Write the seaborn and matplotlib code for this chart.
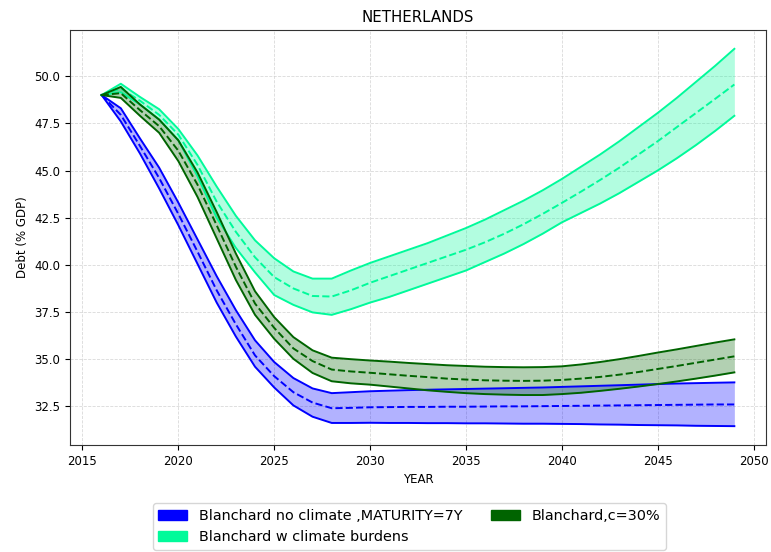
import numpy as np
import pandas as pd
import matplotlib
matplotlib.use("Agg")
import matplotlib.pyplot as plt
from matplotlib.patches import Patch
import seaborn as sns

years = list(range(2016, 2050))

# Blanchard no climate, MATURITY=7Y
blue_mean = [49.0, 47.95, 46.3, 44.6, 42.7, 40.7, 38.65, 36.85, 35.2, 34.1, 33.25, 32.7, 32.4,
             32.42, 32.45, 32.46, 32.47, 32.47, 32.48, 32.48, 32.49, 32.5, 32.5, 32.51, 32.52,
             32.53, 32.54, 32.55, 32.56, 32.57, 32.58, 32.59, 32.6, 32.6]
blue_upper = [49.0, 48.3, 46.7, 45.15, 43.3, 41.35, 39.4, 37.6, 36.0, 34.85, 34.0, 33.45, 33.2,
              33.25, 33.3, 33.33, 33.36, 33.38, 33.4, 33.42, 33.44, 33.46, 33.48, 33.5, 33.53,
              33.56, 33.59, 33.62, 33.65, 33.68, 33.71, 33.73, 33.75, 33.77]
blue_lower = [49.0, 47.6, 45.9, 44.05, 42.1, 40.05, 38.0, 36.2, 34.6, 33.5, 32.55, 31.95, 31.62,
              31.62, 31.63, 31.62, 31.62, 31.61, 31.61, 31.6, 31.6, 31.59, 31.58, 31.58, 31.57,
              31.56, 31.54, 31.53, 31.51, 31.5, 31.49, 31.47, 31.46, 31.45]

# Blanchard w climate burdens
lg_mean = [49.0, 49.35, 48.7, 47.95, 46.9, 45.3, 43.35, 41.75, 40.4, 39.35, 38.75, 38.35, 38.32,
           38.65, 39.05, 39.4, 39.75, 40.1, 40.45, 40.8, 41.2, 41.65, 42.15, 42.7, 43.28,
           43.88, 44.5, 45.15, 45.85, 46.55, 47.3, 48.05, 48.8, 49.56]
lg_upper = [49.0, 49.6, 48.9, 48.25, 47.2, 45.8, 44.15, 42.6, 41.3, 40.35, 39.65, 39.27, 39.27,
            39.7, 40.1, 40.45, 40.8, 41.15, 41.55, 41.95, 42.4, 42.9, 43.4, 43.95, 44.55,
            45.2, 45.85, 46.55, 47.3, 48.05, 48.85, 49.7, 50.55, 51.45]
lg_lower = [49.0, 49.15, 48.5, 47.7, 46.6, 44.7, 42.5, 40.9, 39.6, 38.4, 37.88, 37.48, 37.35,
            37.65, 38.0, 38.3, 38.65, 39.0, 39.35, 39.7, 40.15, 40.6, 41.1, 41.65, 42.25,
            42.75, 43.25, 43.8, 44.4, 45.0, 45.65, 46.35, 47.1, 47.9]

# Blanchard, c=30%
dg_mean = [49.0, 49.1, 48.2, 47.35, 46.05, 44.25, 42.1, 39.9, 37.95, 36.66, 35.57, 34.9, 34.45,
           34.35, 34.28, 34.2, 34.12, 34.05, 33.97, 33.92, 33.88, 33.86, 33.85, 33.86, 33.9,
           33.97, 34.06, 34.18, 34.32, 34.48, 34.64, 34.81, 34.98, 35.15]
dg_upper = [49.0, 49.43, 48.5, 47.7, 46.6, 44.9, 42.8, 40.6, 38.6, 37.23, 36.17, 35.47, 35.08,
            35.0, 34.93, 34.87, 34.8, 34.74, 34.68, 34.64, 34.6, 34.58, 34.57, 34.58, 34.62,
            34.72, 34.85, 35.0, 35.17, 35.35, 35.52, 35.7, 35.88, 36.05]
dg_lower = [49.0, 48.85, 47.9, 47.0, 45.5, 43.6, 41.4, 39.2, 37.35, 36.08, 35.02, 34.27, 33.83,
            33.72, 33.65, 33.55, 33.45, 33.35, 33.27, 33.2, 33.15, 33.12, 33.1, 33.1, 33.15,
            33.22, 33.32, 33.43, 33.55, 33.68, 33.82, 33.97, 34.13, 34.3]

labels = ["Blanchard no climate ,MATURITY=7Y", "Blanchard w climate burdens", "Blanchard,c=30%"]
colors = ["#0000FF", "#00FA9A", "#006400"]

series = [
    (blue_mean, blue_lower, blue_upper),
    (lg_mean, lg_lower, lg_upper),
    (dg_mean, dg_lower, dg_upper),
]

fig = plt.figure(figsize=(7.71, 5.52), dpi=100)
ax = fig.add_axes([0.0908, 0.1938, 0.9027, 0.7519])

for (m, lo, hi), c in zip(series, colors):
    df = pd.DataFrame({"year": years, "mean": m, "lower": lo, "upper": hi})
    ax.fill_between(df["year"], df["lower"], df["upper"], color=c, alpha=0.3, linewidth=0)
    sns.lineplot(data=df, x="year", y="lower", color=c, lw=1.4, ax=ax)
    sns.lineplot(data=df, x="year", y="upper", color=c, lw=1.4, ax=ax)
    sns.lineplot(data=df, x="year", y="mean", color=c, lw=1.4, linestyle="--", ax=ax)

ax.set_title("NETHERLANDS", fontsize=10.8)
ax.set_xlabel("YEAR", fontsize=8.5)
ax.set_ylabel("Debt (% GDP)", fontsize=8.5)
ax.tick_params(labelsize=8.5)
ax.grid(True, linestyle="--", color="#d0d0d0", linewidth=0.6, alpha=0.8)
ax.set_axisbelow(True)
for s in ax.spines.values():
    s.set_color("#333333")

handles = [Patch(facecolor=c, edgecolor=c) for c in colors]
fig.legend(handles, labels, loc="upper center", bbox_to_anchor=(0.531, 0.101), ncol=2,
           fontsize=10.4, frameon=True, handlelength=2.0, columnspacing=2.0)

fig.savefig("out.png", dpi=100)
